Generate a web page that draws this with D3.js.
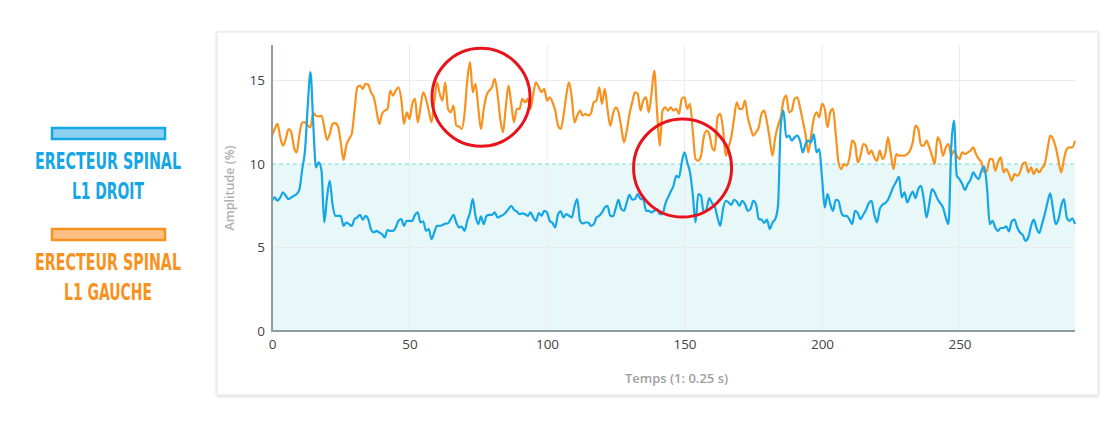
<!DOCTYPE html>
<html>
<head>
<meta charset="utf-8">
<script src="https://cdn.jsdelivr.net/npm/d3@7"></script>
<style>
  html, body { margin: 0; padding: 0; background: #fff; }
  svg { display: block; }
</style>
</head>
<body>
<svg id="chart" width="1116" height="429"></svg>
<script>
// ---------- DATA ----------
const xTicks = [0, 50, 100, 150, 200, 250];
const yTicks = [0, 5, 10, 15];
const threshold = 10;

// Erecteur spinal L1 droit (blue), one value per time step 0..292
const droit = [
  7.8, 8.0, 7.8, 8.0, 8.3, 8.1, 7.9, 8.0, 8.1, 8.2,
  8.5, 9.7, 10.8, 13.5, 15.5, 12.4, 9.8, 10.1, 9.6, 6.5,
  8.0, 9.0, 7.6, 6.9, 6.9, 6.9, 6.3, 6.5, 6.4, 6.3,
  6.7, 6.8, 6.96, 6.67, 6.9, 6.7, 6.1, 5.9, 6.0, 5.9,
  5.8, 5.6, 6.05, 6.0, 6.0, 6.2, 6.6, 6.7, 6.3, 6.6,
  6.6, 6.6, 6.96, 7.1, 6.5, 6.57, 6.0, 6.1, 5.5, 5.9,
  6.3, 6.3, 6.35, 6.43, 6.45, 6.7, 6.95, 6.5, 6.2, 6.25,
  6.0, 6.6, 7.1, 7.9, 6.9, 6.4, 6.87, 6.4, 6.9, 6.96,
  6.96, 7.1, 6.8, 6.87, 6.95, 7.1, 7.3, 7.5, 7.26, 7.16,
  7.0, 7.05, 7.0, 6.9, 7.1, 6.8, 6.6, 7.06, 6.9, 7.2,
  7.1, 6.6, 6.47, 6.2, 7.0, 7.16, 6.8, 7.0, 6.9, 6.8,
  7.46, 7.9, 6.6, 6.45, 6.5, 6.5, 6.3, 6.4, 6.8, 6.9,
  7.1, 7.4, 7.5, 6.9, 6.87, 7.36, 7.86, 7.3, 7.2, 7.7,
  8.15, 7.86, 7.9, 8.2, 7.9, 7.9, 7.2, 7.2, 7.1, 7.2,
  7.3, 7.0, 7.0, 7.6, 8.0, 8.35, 8.7, 9.3, 9.2, 10.1,
  10.7, 10.1, 9.5, 8.2, 6.5, 8.2, 8.1, 7.1, 7.3, 7.96,
  7.66, 7.46, 6.8, 6.3, 7.3, 7.8, 7.7, 7.56, 7.86, 7.76,
  7.5, 7.8, 7.6, 7.2, 7.3, 7.8, 7.6, 6.7, 6.67, 6.47,
  6.67, 6.1, 6.5, 6.7, 7.5, 12.3, 13.2, 11.6, 11.7, 11.4,
  11.6, 11.7, 11.4, 10.7, 11.2, 11.4, 11.3, 11.8, 10.7, 10.9,
  9.2, 7.4, 8.2, 7.6, 7.2, 7.86, 7.8, 7.1, 6.9, 6.9,
  6.67, 6.4, 7.2, 7.06, 6.7, 6.96, 7.26, 7.66, 7.8, 7.0,
  6.5, 7.3, 7.56, 7.66, 7.86, 8.25, 8.65, 8.95, 9.25, 8.0,
  8.3, 7.7, 8.05, 8.35, 7.96, 8.5, 8.7, 7.9, 6.8, 7.6,
  8.5, 8.3, 7.9, 7.66, 7.4, 6.8, 6.4, 11.0, 12.6, 9.3,
  9.1, 8.8, 8.45, 8.8, 9.05, 9.5, 9.25, 9.1, 9.6, 9.84,
  8.6, 6.4, 6.6, 6.2, 6.0, 6.17, 6.17, 6.27, 5.97, 6.57,
  6.67, 6.2, 5.9, 5.75, 5.4, 5.6, 6.27, 6.67, 6.17, 5.87,
  6.4, 7.0, 7.7, 8.25, 7.3, 6.4, 6.7, 7.5, 7.9, 6.8,
  6.6, 6.75, 6.4
];

// Erecteur spinal L1 gauche (orange), one value per time step 0..292
const gauche = [
  11.7, 12.1, 12.4, 11.6, 11.1, 11.5, 12.1, 11.9, 11.0, 10.7,
  11.8, 12.5, 12.5, 12.3, 12.2, 13.05, 12.9, 12.85, 12.9, 12.2,
  11.45, 11.8, 12.4, 12.45, 12.25, 11.3, 10.25, 11.1, 11.5, 11.8,
  13.2, 14.6, 14.7, 14.5, 14.8, 14.75, 14.3, 14.0, 13.2, 12.4,
  13.0, 13.2, 13.3, 14.4, 14.1, 14.4, 14.6, 13.9, 12.4, 13.1,
  12.7, 13.6, 13.9, 12.5, 13.4, 14.3, 13.9, 13.2, 12.5, 13.7,
  14.9, 14.2, 13.8, 14.9, 13.3, 13.1, 13.5, 12.3, 12.25, 12.1,
  13.0, 15.0, 16.1, 14.3, 14.8, 13.4, 12.1, 13.3, 14.1, 14.4,
  14.6, 15.1, 14.2, 12.7, 11.9, 13.4, 14.7, 13.6, 12.5, 13.3,
  13.3, 13.9, 13.7, 13.9, 13.3, 14.2, 14.9, 14.6, 14.3, 14.5,
  13.8, 14.0, 13.7, 13.2, 12.3, 12.1, 12.9, 14.1, 14.9, 14.0,
  12.5, 12.9, 13.2, 12.9, 13.0, 12.9, 13.05, 13.7, 13.8, 14.6,
  13.6, 14.5, 13.3, 12.3, 13.0, 13.4, 13.1, 12.2, 11.3, 12.0,
  13.0, 13.7, 14.3, 14.2, 13.2, 13.8, 14.0, 13.1, 14.2, 15.6,
  13.2, 11.1, 13.2, 13.4, 13.2, 13.4, 13.2, 13.3, 13.0, 13.9,
  14.0, 13.3, 13.6, 12.0, 10.3, 10.2, 10.5, 11.6, 12.0, 11.8,
  11.0, 10.8, 12.8, 13.0, 12.1, 10.5, 11.0, 11.6, 12.7, 13.7,
  13.3, 13.3, 13.8, 12.8, 12.2, 11.7, 11.9, 12.2, 13.0, 13.2,
  12.5, 11.5, 10.5, 11.6, 12.3, 12.8, 13.8, 14.1, 13.1, 13.2,
  13.9, 14.0, 13.4, 12.6, 11.8, 10.7, 11.7, 12.7, 13.1, 12.8,
  13.6, 13.3, 12.2, 13.1, 13.3, 11.8, 10.1, 9.7, 10.0, 9.9,
  10.4, 11.4, 11.2, 10.1, 10.5, 11.2, 11.1, 10.6, 10.8, 10.4,
  10.2, 10.8, 10.3, 10.6, 11.6, 10.6, 9.7, 10.6, 10.5, 10.5,
  10.5, 10.6, 10.8, 11.3, 12.3, 12.1, 11.1, 11.1, 11.4, 11.0,
  10.5, 10.0, 11.6, 11.3, 10.5, 11.0, 11.2, 10.5, 10.8, 10.5,
  10.3, 10.7, 10.6, 10.7, 10.8, 11.0, 10.6, 10.3, 10.1, 9.5,
  9.6, 10.3, 10.3, 9.6, 10.1, 10.4, 9.5, 9.7, 9.4, 9.0,
  9.4, 9.3, 9.5, 10.0, 10.1, 9.5, 9.8, 9.4, 9.7, 9.5,
  9.75, 10.0, 10.9, 11.7, 11.5, 11.0, 10.2, 9.5, 10.3, 10.9,
  11.0, 11.0, 11.4
];

const seriesNames = ["ERECTEUR SPINAL|L1 DROIT", "ERECTEUR SPINAL|L1 GAUCHE"];
const seriesColors = ["#15a6e6", "#f7921e"];
const seriesFills = ["#8ed0f0", "#fdbf83"];

// Highlight circles (data coordinates)
const highlightTimes = [76, 149.3];
const highlightValues = [14.0, 9.76];

const xTitle = "Temps (1: 0.25 s)";
const yTitle = "Amplitude (%)";

// ---------- DRAW ----------
(function () {
const svg = d3.select("#chart");

// card
const defs = svg.append("defs");
const f = defs.append("filter").attr("id", "sh").attr("x", "-5%").attr("y", "-5%").attr("width", "110%").attr("height", "110%");
f.append("feDropShadow").attr("dx", 0).attr("dy", 1).attr("stdDeviation", 1.5).attr("flood-color", "#000").attr("flood-opacity", 0.18);
svg.append("rect").attr("x", 217).attr("y", 32).attr("width", 881).attr("height", 363)
  .attr("fill", "#fff").attr("stroke", "#e6e6e6").attr("filter", "url(#sh)");

const pL = 272, pR = 1075, pT = 45, pB = 331;
const N = droit.length;
const x = d3.scaleLinear().domain([0, N - 1]).range([pL, pR]);
const y = d3.scaleLinear().domain([0, 17.13]).range([pB, pT]);

// threshold zone fill
svg.append("rect")
  .attr("x", x(0)).attr("y", y(threshold))
  .attr("width", x(N - 1) - x(0)).attr("height", y(0) - y(threshold))
  .attr("fill", "#e8f8f8");

// grid
const g = svg.append("g");
g.selectAll(".vg").data(xTicks.filter(d => d > 0)).join("line")
  .attr("x1", d => x(d)).attr("x2", d => x(d)).attr("y1", pT).attr("y2", pB)
  .attr("stroke", "#ececec").attr("stroke-width", 1);
g.selectAll(".hg").data(yTicks.filter(d => d > 0 && d !== threshold)).join("line")
  .attr("x1", pL).attr("x2", pR).attr("y1", d => y(d)).attr("y2", d => y(d))
  .attr("stroke", "#ececec").attr("stroke-width", 1);
g.append("line").attr("x1", pL).attr("x2", pR).attr("y1", y(threshold)).attr("y2", y(threshold))
  .attr("stroke", "#7fd6d6").attr("stroke-width", 1).attr("stroke-dasharray", "4,3");

// lines
const line = d3.line().x((d, i) => x(i)).y(d => y(d)).curve(d3.curveMonotoneX);
svg.append("path").datum(gauche).attr("d", line).attr("fill", "none")
  .attr("stroke", seriesColors[1]).attr("stroke-width", 2.2).attr("stroke-linejoin", "round");
svg.append("path").datum(droit).attr("d", line).attr("fill", "none")
  .attr("stroke", seriesColors[0]).attr("stroke-width", 2.2).attr("stroke-linejoin", "round");

// axes
const xAxis = svg.append("g").attr("transform", `translate(0,${pB})`)
  .call(d3.axisBottom(x).tickValues(xTicks).tickSize(0).tickPadding(8));
const yAxis = svg.append("g").attr("transform", `translate(${pL},0)`)
  .call(d3.axisLeft(y).tickValues(yTicks).tickSize(0).tickPadding(7));
[xAxis, yAxis].forEach(a => {
  a.select(".domain").attr("stroke", "#8f9c9c").attr("stroke-width", 2);
  a.selectAll("text").attr("font-family", "'Open Sans', sans-serif").attr("font-size", 13.5).attr("fill", "#444");
});
xAxis.select(".domain").attr("d", `M${pL - 1},0H${pR}`);
yAxis.select(".domain").attr("d", `M0,${pT}V${pB + 1}`);

// axis titles
svg.append("text").attr("x", (pL + pR) / 2 + 3).attr("y", 383)
  .attr("text-anchor", "middle").attr("font-family", "'Open Sans', sans-serif")
  .attr("font-size", 13).attr("font-weight", 600).attr("fill", "#a0a0a0").text(xTitle);
svg.append("text").attr("transform", `translate(234,${(pT + pB) / 2}) rotate(-90)`)
  .attr("text-anchor", "middle").attr("font-family", "'Open Sans', sans-serif")
  .attr("font-size", 12.5).attr("font-weight", 600).attr("fill", "#b0b0b0").text(yTitle);

// highlight circles
svg.selectAll(".hl").data(highlightTimes).join("circle")
  .attr("cx", d => x(d)).attr("cy", (d, i) => y(highlightValues[i])).attr("r", 49)
  .attr("fill", "none").attr("stroke", "#e8141c").attr("stroke-width", 3);

// legend
const legTop = [127, 228];
const leg = svg.append("g");
seriesNames.forEach((name, i) => {
  const ty = legTop[i];
  leg.append("rect").attr("x", 52).attr("y", ty + 1).attr("width", 113).attr("height", 11)
    .attr("fill", seriesFills[i]).attr("stroke", seriesColors[i]).attr("stroke-width", 2.5);
  const parts = name.split("|");
  const widths = [146, i === 0 ? 72 : 88];
  parts.forEach((p, j) => {
    leg.append("text").attr("x", 108).attr("y", ty + 42 + j * 30)
      .attr("text-anchor", "middle")
      .attr("font-family", "'DejaVu Sans Condensed', 'DejaVu Sans', sans-serif")
      .attr("font-weight", "bold").attr("font-size", 23)
      .attr("textLength", widths[j]).attr("lengthAdjust", "spacingAndGlyphs")
      .attr("fill", seriesColors[i]).text(p);
  });
});
})();
</script>
</body>
</html>
